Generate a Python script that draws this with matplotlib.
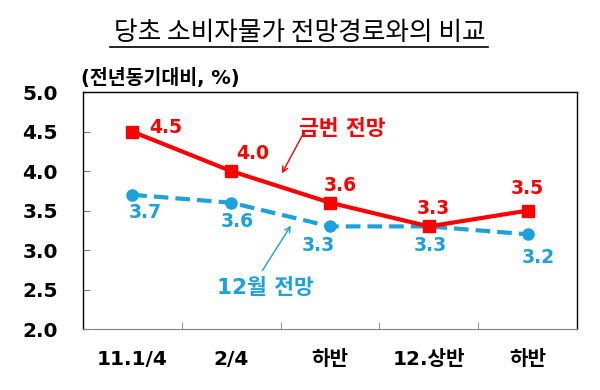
import matplotlib
matplotlib.use('Agg')
import matplotlib.pyplot as plt

plt.rcParams['font.family'] = ['DejaVu Sans', 'Noto Sans CJK KR']

periods = ['11.1/4', '2/4', '하반', '12.상반', '하반']
current = [4.5, 4.0, 3.6, 3.3, 3.5]     # 금번 전망
previous = [3.7, 3.6, 3.3, 3.3, 3.2]    # 12월 전망

red = '#FF0000'
blue = '#1BA1DC'

fig = plt.figure(figsize=(6, 3.9), dpi=100)
ax = fig.add_axes([0.138, 0.156, 0.824, 0.608])

x = list(range(len(periods)))
ax.plot(x, previous, color=blue, lw=3, ls=(0, (3.5, 1.7)), marker='o', ms=8, zorder=2)
ax.plot(x, current, color=red, lw=3, marker='s', ms=8, zorder=3)

# 라벨 오프셋 (픽셀)
red_off = [(33, 4), (22, 18), (10, 17), (4, 18), (-1, 22)]
blue_off = [(13, -18), (6, -19), (-12, -19), (1, -19), (10, -23)]
px = 0.72
for i, v in enumerate(current):
    dx, dy = red_off[i]
    ax.annotate(f'{v:.1f}', (i, v), xytext=(dx * px, dy * px), textcoords='offset points',
                ha='center', va='center', color=red, fontsize=13.5, fontweight='bold')
for i, v in enumerate(previous):
    dx, dy = blue_off[i]
    ax.annotate(f'{v:.1f}', (i, v), xytext=(dx * px, dy * px), textcoords='offset points',
                ha='center', va='center', color=blue, fontsize=13.5, fontweight='bold')

ax.annotate('', xy=(1.50, 3.94), xytext=(1.75, 4.52),
            arrowprops=dict(arrowstyle='->', color=red, lw=1))
ax.text(2.12, 4.53, '금번 전망', color=red, fontsize=15.5, fontweight='bold',
        ha='center', va='center')
ax.annotate('', xy=(1.62, 3.34), xytext=(1.30, 2.71),
            arrowprops=dict(arrowstyle='->', color=blue, lw=1))
ax.text(1.35, 2.52, '12월 전망', color=blue, fontsize=15.5, fontweight='bold',
        ha='center', va='center')

ax.set_xlim(-0.5, 4.5)
ax.set_ylim(2.0, 5.0)
ax.set_yticks([2.0, 2.5, 3.0, 3.5, 4.0, 4.5, 5.0])
ax.set_yticklabels([f'{t:.1f}' for t in ax.get_yticks()], fontsize=14.5, fontweight='bold')
ax.set_xticks(x)
ax.set_xticklabels(periods, fontsize=14.5, fontweight='bold')
ax.set_xticks([0.5, 1.5, 2.5, 3.5], minor=True)
ax.tick_params(axis='x', which='major', length=0, pad=15)
ax.tick_params(axis='x', which='minor', direction='in', length=5, color='gray')
ax.tick_params(axis='y', direction='in', length=5, color='gray', pad=18)

for s in ['left', 'top', 'right']:
    ax.spines[s].set_color('black')
    ax.spines[s].set_linewidth(1)
ax.spines['bottom'].set_color('gray')

ax.text(-0.52, 5.18, '(전년동기대비, %)', fontsize=14, fontweight='bold',
        ha='left', va='center')

fig.text(0.5, 0.915, '당초 소비자물가 전망경로와의 비교', ha='center', va='center',
         fontsize=18.5, family=['Noto Sans CJK KR'])
fig.add_artist(plt.Line2D([0.183, 0.813], [0.879, 0.879], color='black', lw=1.2))

fig.savefig('out.png', dpi=100)
